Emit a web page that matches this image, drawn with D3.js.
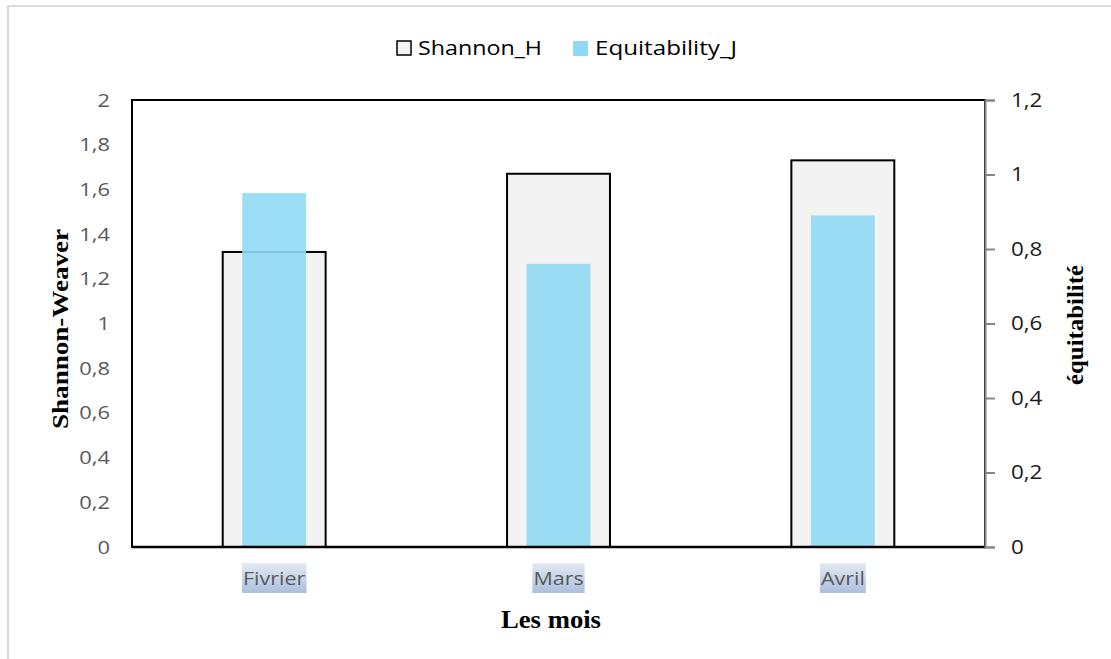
<!DOCTYPE html>
<html>
<head>
<meta charset="utf-8">
<script src="https://cdn.jsdelivr.net/npm/d3@7"></script>
<style>
  html, body { margin: 0; padding: 0; background: #fff; }
  svg { display: block; }
</style>
</head>
<body>
<svg id="chart" width="1111" height="659"></svg>
<script>
// Monthly diversity indices
const months = ["Fivrier", "Mars", "Avril"];
const shannonH = [1.32, 1.67, 1.73];
const equitabilityJ = [0.95, 0.76, 0.89];
const leftTicks = [0, 0.2, 0.4, 0.6, 0.8, 1, 1.2, 1.4, 1.6, 1.8, 2];
const rightTicks = [0, 0.2, 0.4, 0.6, 0.8, 1, 1.2];
const legendLabels = ["Shannon_H", "Equitability_J"];

const svg = d3.select("#chart");
const W = 1111, H = 659;
const plot = { left: 132, right: 985, top: 100, bottom: 547 };

const sansFont = "'Open Sans', 'Liberation Sans', sans-serif";
const serifFont = "'Liberation Serif', 'Times New Roman', serif";
const fmt = d => String(d).replace(".", ",");

// widen glyphs horizontally by a factor (text set in a wide face)
function stretch(sel, factor) {
  sel.each(function () {
    const len = this.getComputedTextLength();
    d3.select(this)
      .attr("textLength", len * factor)
      .attr("lengthAdjust", "spacingAndGlyphs");
  });
}

// outer frame
svg.append("rect")
  .attr("x", 8).attr("y", 6).attr("width", W + 20).attr("height", H + 20)
  .attr("fill", "#fff").attr("stroke", "#d9d9d9").attr("stroke-width", 2);

const x = d3.scaleBand()
  .domain(months)
  .range([plot.left, plot.right])
  .paddingInner(0.638)
  .paddingOuter(0.319);

const yL = d3.scaleLinear().domain([0, 2]).range([plot.bottom, plot.top]);
const yR = d3.scaleLinear().domain([0, 1.2]).range([plot.bottom, plot.top]);

// plot border
svg.append("rect")
  .attr("x", plot.left).attr("y", plot.top)
  .attr("width", plot.right - plot.left).attr("height", plot.bottom - plot.top)
  .attr("fill", "none").attr("stroke", "#000").attr("stroke-width", 2);

// Shannon bars
svg.append("g").selectAll("rect")
  .data(months)
  .join("rect")
  .attr("x", d => x(d))
  .attr("width", x.bandwidth())
  .attr("y", (d, i) => yL(shannonH[i]))
  .attr("height", (d, i) => yL(0) - yL(shannonH[i]))
  .attr("fill", "#f3f3f3")
  .attr("stroke", "#000")
  .attr("stroke-width", 2);

// Equitability bars (secondary axis)
const eqW = x.bandwidth() * 0.62;
svg.append("g").selectAll("rect")
  .data(months)
  .join("rect")
  .attr("x", d => x(d) + (x.bandwidth() - eqW) / 2)
  .attr("width", eqW)
  .attr("y", (d, i) => yR(equitabilityJ[i]))
  .attr("height", (d, i) => yR(0) - yR(equitabilityJ[i]))
  .attr("fill", "#8fd9f4")
  .attr("fill-opacity", 0.9);

// bottom axis line
svg.append("line")
  .attr("x1", plot.left).attr("x2", plot.right)
  .attr("y1", plot.bottom).attr("y2", plot.bottom)
  .attr("stroke", "#000").attr("stroke-width", 2.5);

// left axis
const gL = svg.append("g")
  .attr("transform", `translate(${plot.left},0)`)
  .call(d3.axisLeft(yL).tickValues(leftTicks).tickFormat(fmt).tickSize(0).tickPadding(22));
gL.select(".domain").remove();
gL.selectAll("text")
  .attr("font-family", sansFont).attr("font-size", 19).attr("fill", "#595959");
stretch(gL.selectAll("text"), 1.15);

// right axis
const gR = svg.append("g")
  .attr("transform", `translate(${plot.right},0)`)
  .call(d3.axisRight(yR).tickValues(rightTicks).tickFormat(fmt).tickSize(10).tickPadding(16));
gR.select(".domain").attr("stroke", "#868686").attr("stroke-width", 2);
gR.selectAll(".tick line").attr("stroke", "#868686").attr("stroke-width", 2);
gR.selectAll("text")
  .attr("font-family", sansFont).attr("font-size", 20).attr("fill", "#1a1a1a");
stretch(gR.selectAll("text"), 1.12);

// category labels with gradient highlight
const defs = svg.append("defs");
const grad = defs.append("linearGradient")
  .attr("id", "labelGrad").attr("x1", 0).attr("y1", 0).attr("x2", 0).attr("y2", 1);
grad.append("stop").attr("offset", "0%").attr("stop-color", "#e3eaf4");
grad.append("stop").attr("offset", "100%").attr("stop-color", "#aabfdc");

const catG = svg.append("g").selectAll("g")
  .data(months)
  .join("g")
  .attr("transform", d => `translate(${x(d) + x.bandwidth() / 2},0)`);
const catText = catG.append("text")
  .attr("y", 585)
  .attr("text-anchor", "middle")
  .attr("font-family", sansFont)
  .attr("font-size", 19)
  .attr("fill", "#595959")
  .text(d => d);
stretch(catText, 1.13);
catText.each(function () {
  const b = this.getBBox();
  d3.select(this.parentNode).insert("rect", "text")
    .attr("x", b.x - 1).attr("y", 563)
    .attr("width", b.width + 2).attr("height", 30)
    .attr("fill", "url(#labelGrad)");
});

// axis titles
svg.append("text")
  .attr("x", 551).attr("y", 628)
  .attr("text-anchor", "middle")
  .attr("font-family", serifFont).attr("font-weight", "bold").attr("font-size", 25)
  .attr("fill", "#000")
  .attr("textLength", 100).attr("lengthAdjust", "spacingAndGlyphs")
  .text("Les mois");

svg.append("text")
  .attr("transform", "translate(68,329) rotate(-90)")
  .attr("text-anchor", "middle")
  .attr("font-family", serifFont).attr("font-weight", "bold").attr("font-size", 24)
  .attr("fill", "#000")
  .attr("textLength", 200).attr("lengthAdjust", "spacingAndGlyphs")
  .text("Shannon-Weaver");

svg.append("text")
  .attr("transform", "translate(1083,325) rotate(-90)")
  .attr("text-anchor", "middle")
  .attr("font-family", serifFont).attr("font-weight", "bold").attr("font-size", 23)
  .attr("fill", "#000")
  .attr("textLength", 120).attr("lengthAdjust", "spacingAndGlyphs")
  .text("équitabilité");

// legend
const legend = svg.append("g").attr("transform", "translate(397,48)");
legend.append("rect")
  .attr("x", 0).attr("y", -7).attr("width", 14).attr("height", 14)
  .attr("fill", "#f3f3f3").attr("stroke", "#000").attr("stroke-width", 1.5);
const l1 = legend.append("text")
  .attr("x", 21).attr("y", 7)
  .attr("font-family", sansFont).attr("font-size", 20).attr("fill", "#000")
  .attr("textLength", 124).attr("lengthAdjust", "spacingAndGlyphs")
  .text(legendLabels[0]);
legend.append("rect")
  .attr("x", 176).attr("y", -7).attr("width", 15).attr("height", 15)
  .attr("fill", "#8fd9f4");
legend.append("text")
  .attr("x", 198).attr("y", 7)
  .attr("font-family", sansFont).attr("font-size", 20).attr("fill", "#000")
  .attr("textLength", 142).attr("lengthAdjust", "spacingAndGlyphs")
  .text(legendLabels[1]);
</script>
</body>
</html>
